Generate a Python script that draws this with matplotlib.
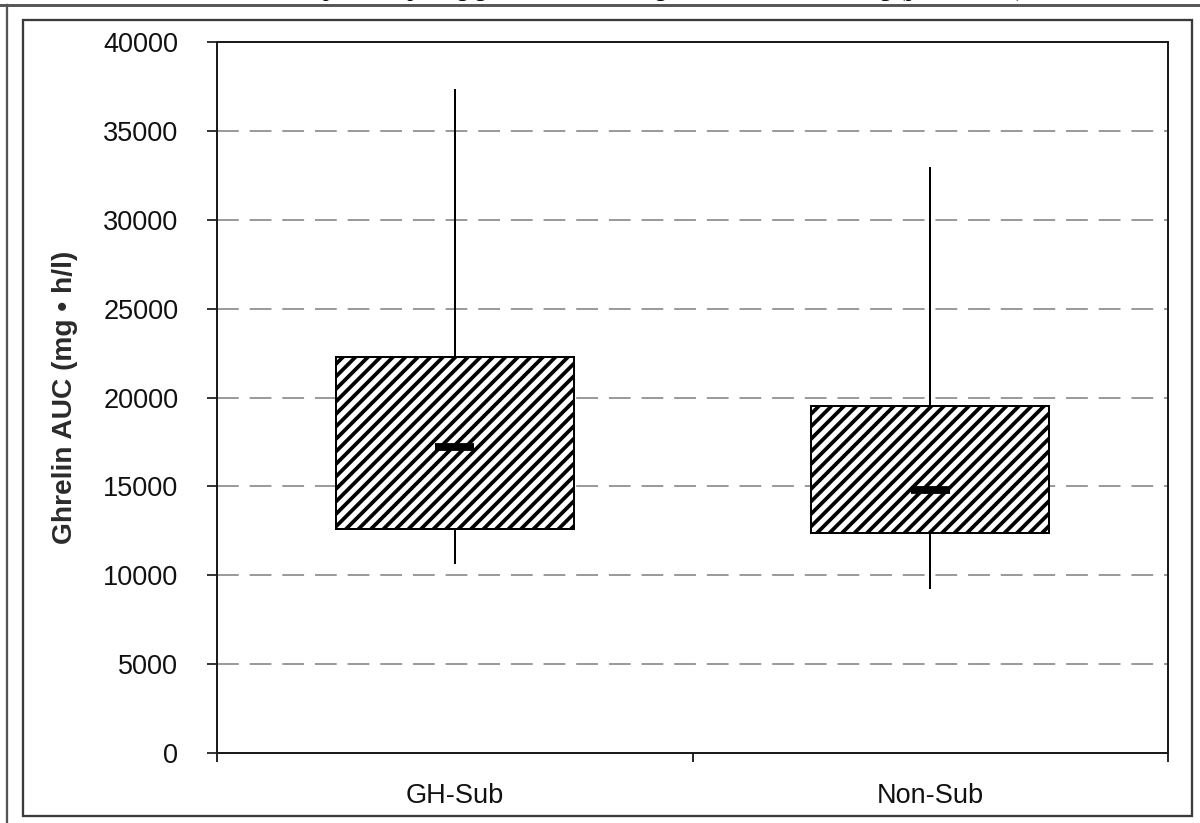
import matplotlib
matplotlib.use("Agg")
import matplotlib.pyplot as plt
from matplotlib.patches import Rectangle
from matplotlib.lines import Line2D

# ghrelin AUC summary per group
groups = ['GH-Sub', 'Non-Sub']
whisker_low = [10700, 9300]
q1 = [12600, 12400]
median = [17200, 14800]
q3 = [22300, 19500]
whisker_high = [37300, 32900]

y_ticks = [0, 5000, 10000, 15000, 20000, 25000, 30000, 35000, 40000]

plt.rcParams['font.family'] = ['Liberation Sans', 'DejaVu Sans']
plt.rcParams['hatch.linewidth'] = 3.6
plt.rcParams['hatch.color'] = 'black'

fig = plt.figure(figsize=(16, 823 / 75), dpi=75)
ax = fig.add_axes([217 / 1200, 70 / 823, 951 / 1200, 711 / 823])

stats = []
for i, g in enumerate(groups):
    stats.append({'label': g, 'whislo': whisker_low[i], 'q1': q1[i],
                  'med': median[i], 'q3': q3[i], 'whishi': whisker_high[i]})

positions = [1, 2]
ax.bxp(stats, positions=positions, widths=0.5, showcaps=False,
       showfliers=False, patch_artist=True,
       boxprops=dict(facecolor='white', edgecolor='black', hatch='//',
                     linewidth=1.9),
       whiskerprops=dict(color='black', linewidth=1.9),
       medianprops=dict(visible=False), zorder=3)

# short thick median bars
for p, m in zip(positions, median):
    ax.hlines(m, p - 0.041, p + 0.041, colors='black', linewidth=7.5,
              zorder=4)

ax.set_xlim(0.5, 2.5)
ax.set_ylim(0, 40000)
ax.set_yticks(y_ticks)
ax.set_yticklabels([str(v) for v in y_ticks])
ax.set_xticks(positions)
ax.set_xticklabels(groups)
ax.set_xticks([0.5, 1.5, 2.5], minor=True)

ax.tick_params(axis='y', direction='out', length=10, width=1.6,
               pad=27, labelsize=26, colors='#111111')
ax.tick_params(axis='x', which='major', length=0, pad=29, labelsize=26,
               colors='#111111')
ax.tick_params(axis='x', which='minor', direction='out', length=9,
               width=1.6)

for v in y_ticks[1:-1]:
    ax.axhline(v, color='#9a9a9a', linewidth=1.9, linestyle=(0, (11, 5.5)),
               zorder=1)

for s in ax.spines.values():
    s.set_linewidth(1.9)
    s.set_color('#1a1a1a')

ax.set_ylabel('Ghrelin AUC (mg \u2022 h/l)', fontsize=27, fontweight='bold',
              color='#2a2a2a')
ax.yaxis.set_label_coords(-139 / 951, 0.5)

# chart area border and page frame
fig.add_artist(Rectangle((23 / 1200, 7 / 823), 1169 / 1200, 796 / 823,
                         transform=fig.transFigure, fill=False,
                         edgecolor='#3a3a3a', linewidth=2.2))
fig.add_artist(Line2D([0, 1], [818 / 823, 818 / 823],
                      transform=fig.transFigure, color='#555555',
                      linewidth=2.8))
fig.add_artist(Line2D([7 / 1200, 7 / 1200], [0, 818 / 823],
                      transform=fig.transFigure, color='#555555',
                      linewidth=2.2))

# caption sitting above the frame, mostly cut off
fig.text(650 / 1200, 827 / 823,
         'Box plot comparing ghrelin AUC during GH stimulation testing (p=0.34, NS)',
         ha='center', va='baseline', fontsize=23,
         family=['Liberation Serif', 'DejaVu Serif'], color='black')

fig.savefig('out.png', dpi=75)
